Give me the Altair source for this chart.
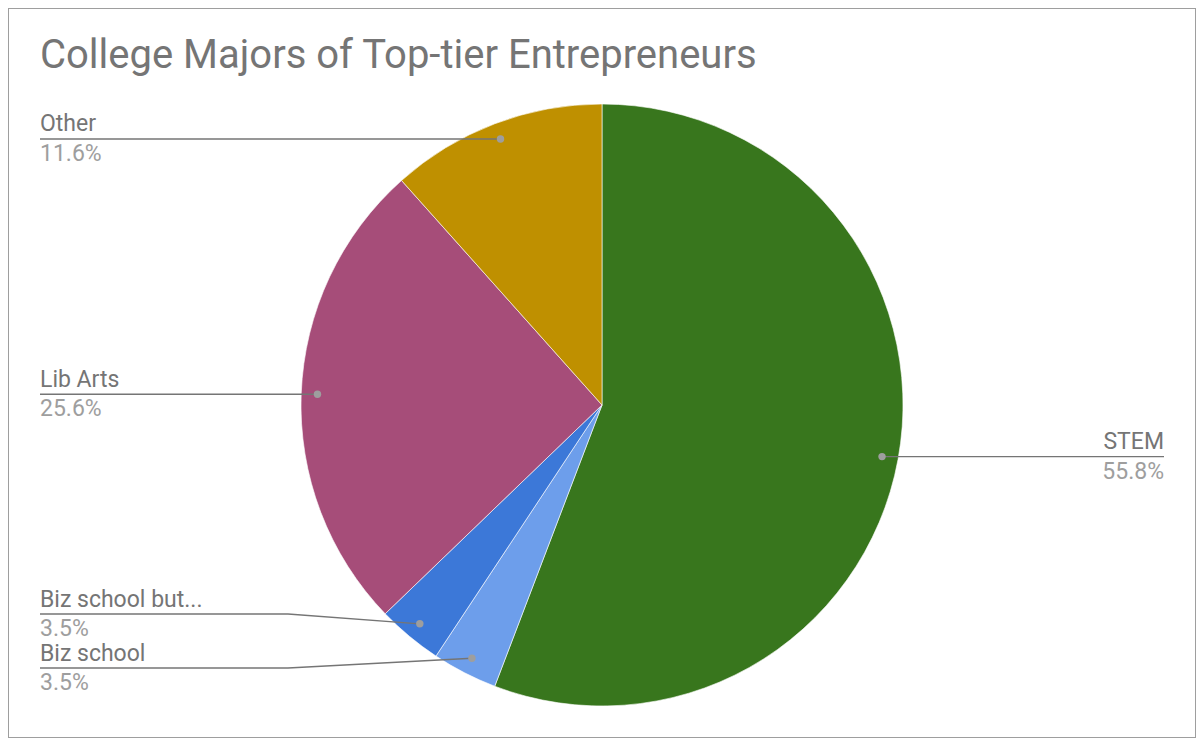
import altair as alt
import pandas as pd
import numpy as np

# ---- data ----
categories = ["STEM", "Biz school", "Biz school but...", "Lib Arts", "Other"]
values = [55.8, 3.5, 3.5, 25.6, 11.6]
colors = ["#38761d", "#6d9eeb", "#3c78d8", "#a64d79", "#bf9000"]
title_text = "College Majors of Top-tier Entrepreneurs"

# ---- layout (style constants) ----
W, H = 1188, 730
CX, CY, R = 594, 397, 301
DOT_R = 0.946 * R
LEFT_X, RIGHT_X, ELBOW_X = 32, 1156, 280
MIN_GAP = 54
FONT = "Roboto"
LABEL_SIZE = 23
TITLE_SIZE = 40

vals = np.array(values, dtype=float)
frac = vals / vals.sum()
cum = np.cumsum(frac)
mid = (cum - frac / 2) * 2 * np.pi
dot_x = CX + DOT_R * np.sin(mid)
dot_y = CY - DOT_R * np.cos(mid)
side = np.where(np.sin(mid) > 0, "right", "left")

# resolve label collisions per side
line_y = dot_y.copy()
for s in ["left", "right"]:
    idx = [i for i in range(len(values)) if side[i] == s]
    idx.sort(key=lambda i: dot_y[i])
    changed = True
    while changed:
        changed = False
        for a, b in zip(idx, idx[1:]):
            if line_y[b] - line_y[a] < MIN_GAP - 0.01:
                c = (line_y[a] + line_y[b]) / 2
                line_y[a] = c - MIN_GAP / 2
                line_y[b] = c + MIN_GAP / 2
                changed = True

pie_df = pd.DataFrame({"cat": categories, "val": values, "idx": range(len(values))})

rows = []
lab_rows = []
for i, c in enumerate(categories):
    if side[i] == "left":
        end_x = LEFT_X
        pts = [(end_x, line_y[i])]
        if abs(line_y[i] - dot_y[i]) > 1:
            pts.append((ELBOW_X, line_y[i]))
        pts.append((dot_x[i], dot_y[i]))
        align = "left"
    else:
        end_x = RIGHT_X
        pts = [(dot_x[i], dot_y[i])]
        if abs(line_y[i] - dot_y[i]) > 1:
            pts.append((W - ELBOW_X, line_y[i]))
        pts.append((end_x, line_y[i]))
        align = "right"
    for k, (px, py) in enumerate(pts):
        rows.append({"cat": c, "seq": k, "px": px, "py": py})
    lab_rows.append({"cat": c, "name": c, "pct": f"{values[i]:.1f}%",
                     "tx": end_x, "ny": line_y[i] - 7.5, "py": line_y[i] + 22,
                     "dx": dot_x[i], "dy": dot_y[i], "align": align})

line_df = pd.DataFrame(rows)
lab_df = pd.DataFrame(lab_rows)

pie = alt.Chart(pie_df).mark_arc(outerRadius=R, stroke="white", strokeWidth=0.6).encode(
    theta=alt.Theta("val:Q", stack=True),
    order=alt.Order("idx:Q", sort="ascending"),
    color=alt.Color("cat:N", scale=alt.Scale(domain=categories, range=colors), legend=None),
    x=alt.value(CX), y=alt.value(CY),
)

lines = alt.Chart(line_df).mark_line(color="#757575", strokeWidth=1.4).encode(
    x=alt.X("px:Q", scale=None, axis=None),
    y=alt.Y("py:Q", scale=None, axis=None),
    detail="cat:N",
    order="seq:Q",
)

dots = alt.Chart(lab_df).mark_circle(color="#9e9e9e", opacity=1, size=55).encode(
    x=alt.X("dx:Q", scale=None, axis=None),
    y=alt.Y("dy:Q", scale=None, axis=None),
)

def texts(align):
    d = lab_df[lab_df["align"] == align]
    names = alt.Chart(d).mark_text(align=align, baseline="alphabetic", font=FONT,
                                   fontSize=LABEL_SIZE, color="#757575").encode(
        x=alt.X("tx:Q", scale=None, axis=None),
        y=alt.Y("ny:Q", scale=None, axis=None),
        text="name:N",
    )
    pcts = alt.Chart(d).mark_text(align=align, baseline="alphabetic", font=FONT,
                                  fontSize=LABEL_SIZE, color="#9e9e9e").encode(
        x=alt.X("tx:Q", scale=None, axis=None),
        y=alt.Y("py:Q", scale=None, axis=None),
        text="pct:N",
    )
    return names + pcts

title = alt.Chart(pd.DataFrame({"t": [title_text]})).mark_text(
    align="left", baseline="alphabetic", font=FONT, fontSize=TITLE_SIZE, color="#757575"
).encode(x=alt.value(LEFT_X), y=alt.value(60), text="t:N")

chart = alt.layer(pie, lines, dots, texts("left"), texts("right"), title).properties(
    width=W, height=H, autosize=alt.AutoSizeParams(type="none"), padding=0
).configure_view(stroke="#9e9e9e", strokeWidth=2)

chart.save("out.html", embed_options={"renderer": "svg", "actions": False})
